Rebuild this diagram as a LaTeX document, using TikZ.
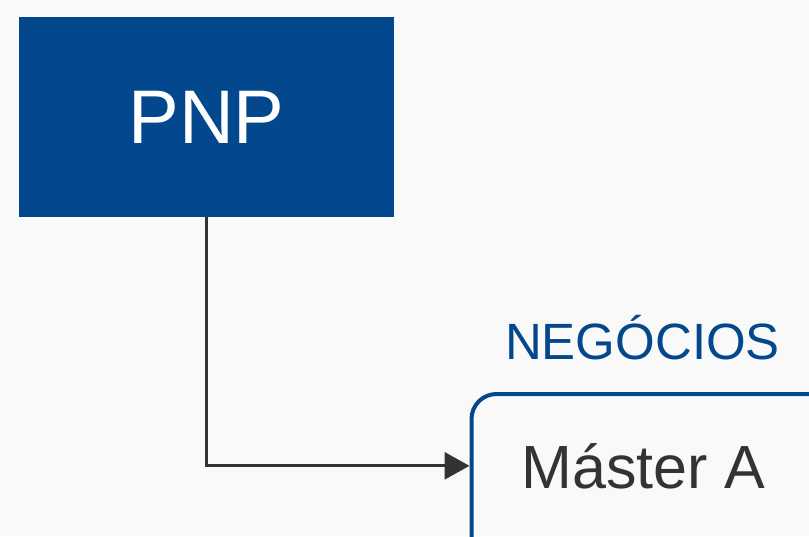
\documentclass[tikz,border=0pt]{standalone}
\usepackage{fontspec}
\setmainfont{Liberation Sans}
\usetikzlibrary{arrows.meta}
\usetikzlibrary{positioning}
\definecolor{pnpblue}{HTML}{03488C}
\definecolor{txtgray}{HTML}{333333}
\definecolor{bggray}{HTML}{F9F9F9}
\tikzstyle{head}=[fill=pnpblue,text=white,minimum width=375pt,minimum
                height=200pt,font=\fontsize{76}{80}\selectfont]
\tikzstyle{unit}=[draw=pnpblue,line width=4pt,rounded corners=25pt,
                minimum width=400pt,minimum height=260pt]
\tikzstyle{unitname}=[text=txtgray,font=\fontsize{61}{66}\selectfont]
\tikzstyle{title}=[text=pnpblue,font=\fontsize{51}{56}\selectfont]
\tikzstyle{link}=[draw=txtgray,line width=3pt,
                -{Triangle[length=25pt,width=27pt]}]

\begin{document}
\begin{tikzpicture}[x=1pt,y=1pt]
\fill[bggray] (0,0) rectangle (809,-536);
\clip (0,0) rectangle (809,-536);
\node[head] (pnp) at (206.5,-117) {PNP};
\node[unit,anchor=north west] (master) at (469.5,-392) {};
\node[unitname,anchor=base] (mastertext) at (643.5,-488) {Máster A};
\node[title,anchor=base] (negocios) at (642.5,-359) {NEGÓCIOS};
\draw[link] (pnp.south) |- (master.west |- mastertext);
\end{tikzpicture}
\end{document}
